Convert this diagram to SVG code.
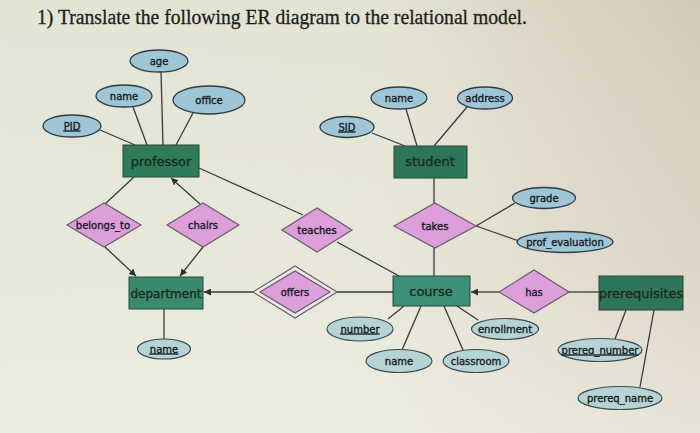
<svg xmlns="http://www.w3.org/2000/svg" width="700" height="433" viewBox="0 0 700 433">
<defs>
<linearGradient id="bg" x1="0" y1="0" x2="1" y2="0">
<stop offset="0" stop-color="#e2e4d4"/>
<stop offset="0.55" stop-color="#e3e3d3"/>
<stop offset="1" stop-color="#d4c9b6"/>
</linearGradient>
<linearGradient id="bgv" x1="0" y1="0" x2="0" y2="1">
<stop offset="0" stop-color="#ffffff" stop-opacity="0"/>
<stop offset="0.6" stop-color="#f2f1e8" stop-opacity="0.3"/>
<stop offset="1" stop-color="#f0efe6" stop-opacity="0.7"/>
</linearGradient>
<marker id="arr" markerUnits="userSpaceOnUse" markerWidth="8" markerHeight="7" refX="7" refY="3.5" orient="auto">
<path d="M0,0 L7,3.5 L0,7 z" fill="#2a2f33"/>
</marker>
<style>
.ent{stroke:#2a4436;stroke-width:1}
.rel{fill:#dc9fda;stroke:#6a5a70;stroke-width:1.2}
.att{fill:#9fc6d6;stroke:#2f3b44;stroke-width:1.3}
.att2{fill:#b6d4d4;stroke:#3d4a4e;stroke-width:1.2}
.t{font-family:"DejaVu Sans","Liberation Sans",sans-serif;fill:#141a24;stroke:#141a24;stroke-width:0.35;text-anchor:middle;font-size:10px}
.te{font-family:"DejaVu Sans","Liberation Sans",sans-serif;fill:#18281f;stroke:#18281f;stroke-width:0.3;text-anchor:middle;font-size:13px}
.u{text-decoration:underline}
#connectors path{stroke:#363c40;stroke-width:1.3;fill:none}
</style>
</defs>
<rect width="700" height="433" fill="url(#bg)"/>
<rect width="700" height="433" fill="url(#bgv)"/>
<text x="37" y="24" font-family="Liberation Serif, serif" font-size="20" fill="#1e1e1e" stroke="#1e1e1e" stroke-width="0.3" textLength="490" lengthAdjust="spacingAndGlyphs">1) Translate the following ER diagram to the relational model.</text>

<g id="connectors">
<path d="M100,130 L135,145"/>
<path d="M133,107 L147,145"/>
<path d="M161,72 L163,145"/>
<path d="M193,113 L176,145"/>
<path d="M134,177 L105,204"/>
<path d="M200,204 L171,178" marker-end="url(#arr)"/>
<path d="M199,168 L303,215"/>
<path d="M337,242 L399,276"/>
<path d="M105,247 L136,276" marker-end="url(#arr)"/>
<path d="M203,247 L180,276" marker-end="url(#arr)"/>
<path d="M253,292 L204,292" marker-end="url(#arr)"/>
<path d="M337,292 L394,292"/>
<path d="M372,133 L405,146"/>
<path d="M406,109 L417,146"/>
<path d="M467,107 L434,146"/>
<path d="M434,178 L434,203"/>
<path d="M434,248 L434,276"/>
<path d="M476,226 L515,203"/>
<path d="M476,226 L519,241"/>
<path d="M499,292 L471,292" marker-end="url(#arr)"/>
<path d="M569,292 L599,292"/>
<path d="M388,319 L404,306"/>
<path d="M402,350 L421,306"/>
<path d="M463,350 L444,306"/>
<path d="M478,320 L457,306"/>
<path d="M164,309 L164,339"/>
<path d="M626,310 L615,339"/>
<path d="M654,310 L640,387"/>
</g>

<g id="professor"><rect class="ent" x="123" y="145" width="76" height="32" fill="#2f7c5a"/><text class="te" x="161" y="166">professor</text></g>
<g id="prof_age"><ellipse class="att" cx="159" cy="61" rx="29" ry="11"/><text class="t" x="159" y="64.5">age</text></g>
<g id="prof_name"><ellipse class="att" cx="124" cy="96" rx="28" ry="11"/><text class="t" x="124" y="99.5">name</text></g>
<g id="prof_office"><ellipse class="att" cx="209" cy="100" rx="36" ry="14"/><text class="t" x="209" y="104" font-size="11">office</text></g>
<g id="prof_pid"><ellipse class="att" cx="72" cy="126" rx="29" ry="11"/><text class="t u" x="72" y="129.5">PID</text></g>

<g id="student"><rect class="ent" x="394" y="146" width="73" height="32" fill="#2e7658"/><text class="te" x="430" y="166" font-size="12.5">student</text></g>
<g id="stud_sid"><ellipse class="att" cx="347" cy="127" rx="27" ry="10.5"/><text class="t u" x="347" y="130.5">SID</text></g>
<g id="stud_name"><ellipse class="att" cx="399" cy="98" rx="28" ry="11"/><text class="t" x="399" y="101.5">name</text></g>
<g id="stud_address"><ellipse class="att" cx="485" cy="98" rx="27.5" ry="11"/><text class="t" x="485" y="101.5">address</text></g>

<g id="takes"><polygon class="rel" points="394,226 435,203 476,226 435,248"/><text class="t" x="435" y="229.5">takes</text></g>
<g id="takes_grade"><ellipse class="att" cx="544" cy="198" rx="31.5" ry="10.5"/><text class="t" x="544" y="201.5">grade</text></g>
<g id="takes_prof_eval"><ellipse class="att" cx="565" cy="242" rx="48" ry="10.5"/><text class="t" x="565" y="245.5" font-size="10.5">prof_evaluation</text></g>

<g id="teaches"><polygon class="rel" points="282,230 317,208 352,230 317,252"/><text class="t" x="317" y="233.5">teaches</text></g>
<g id="chairs"><polygon class="rel" points="167,225 203,203 239,225 203,247"/><text class="t" x="203" y="228.5">chairs</text></g>
<g id="belongs_to"><polygon class="rel" points="67,225 104,203 141,225 104,247"/><text class="t" x="103" y="229" font-size="11">belongs_to</text></g>

<g id="department"><rect class="ent" x="129" y="277" width="74" height="32" fill="#3a8b6e"/><text class="te" x="166" y="297.5" font-size="12.5" textLength="71" lengthAdjust="spacingAndGlyphs">department</text></g>
<g id="dept_name"><ellipse class="att2" cx="164" cy="349" rx="26.5" ry="10" fill="#c0dcd6"/><text class="t u" x="164" y="352.5" font-size="9.5">name</text></g>

<g id="offers"><polygon points="253,292 295,266 337,292 295,318" fill="#ecebe2" stroke="#6a5a70" stroke-width="1.2"/><polygon class="rel" points="260,292 295,271 330,292 295,313"/><text class="t" x="295" y="296" font-size="11">offers</text></g>

<g id="course"><rect class="ent" x="393" y="276" width="77" height="30" fill="#3d9078"/><text class="te" x="431" y="295.5" font-size="12">course</text></g>
<g id="course_number"><ellipse class="att2" cx="360" cy="329" rx="33" ry="12"/><text class="t u" x="360" y="332.5" font-size="9.5">number</text></g>
<g id="course_name"><ellipse class="att2" cx="399" cy="361" rx="33" ry="11.5"/><text class="t" x="399" y="364.5" font-size="9.5">name</text></g>
<g id="course_classroom"><ellipse class="att2" cx="476" cy="361" rx="33" ry="11.5"/><text class="t" x="476" y="364.5" font-size="9.5">classroom</text></g>
<g id="course_enrollment"><ellipse class="att2" cx="505" cy="329" rx="33.5" ry="10.5"/><text class="t" x="505" y="332.5" font-size="9.5">enrollment</text></g>

<g id="has"><polygon class="rel" points="499,292 534,270 569,292 534,313"/><text class="t" x="534" y="295.5">has</text></g>
<g id="prerequisites"><rect class="ent" x="599" y="276" width="84" height="34" fill="#2f7559"/><text class="te" x="641" y="297.5" font-size="12.5">prerequisites</text></g>
<g id="prereq_number"><ellipse class="att2" cx="600" cy="350" rx="42" ry="11.5"/><text class="t u" x="600" y="353.5">prereq_number</text></g>
<g id="prereq_name"><ellipse class="att2" cx="620" cy="398" rx="42" ry="11.5"/><text class="t" x="620" y="401.5">prereq_name</text></g>
</svg>
